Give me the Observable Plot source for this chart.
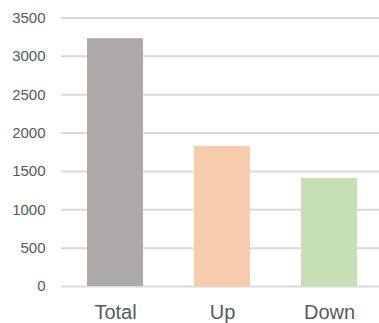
<!DOCTYPE html>
<html>
<head>
<meta charset="utf-8">
<script src="https://cdn.jsdelivr.net/npm/d3@7"></script>
<script src="https://cdn.jsdelivr.net/npm/@observablehq/plot@0.6"></script>
<style>
  html, body { margin: 0; padding: 0; background: #ffffff; }
  #chart svg { display: block; }
</style>
</head>
<body>
<div id="chart"></div>
<script>
// Counts per category
const categories = ["Total", "Up", "Down"];
const values = [3230, 1825, 1408];
const barColors = ["#aeaaaa", "#f8cbad", "#c5e0b4"];
const yTicks = [0, 500, 1000, 1500, 2000, 2500, 3000, 3500];

const rows = categories.map((c, i) => ({category: c, value: values[i]}));

const textColor = "#595959";

const chart = Plot.plot({
  width: 379,
  height: 323,
  marginLeft: 61,
  marginRight: 0,
  marginTop: 17.5,
  marginBottom: 37,
  style: {fontFamily: "'Liberation Sans', Arial, sans-serif", background: "#ffffff", color: textColor},
  x: {domain: categories, paddingInner: 0.477, paddingOuter: 0.224, align: 0.54, axis: null},
  y: {domain: [0, 3500], axis: null},
  color: {domain: categories, range: barColors},
  marks: [
    Plot.ruleY(yTicks, {stroke: "#d9d9d9", strokeWidth: 2}),
    Plot.barY(rows, {x: "category", y: "value", fill: "category"}),
    Plot.axisY({ticks: yTicks, tickSize: 0, tickPadding: 16, fontSize: 15, fill: textColor, tickFormat: d => String(d), label: null}),
    Plot.axisX({tickSize: 0, tickPadding: 18, fontSize: 20, fill: textColor, label: null})
  ]
});

document.getElementById("chart").appendChild(chart);
</script>
</body>
</html>
